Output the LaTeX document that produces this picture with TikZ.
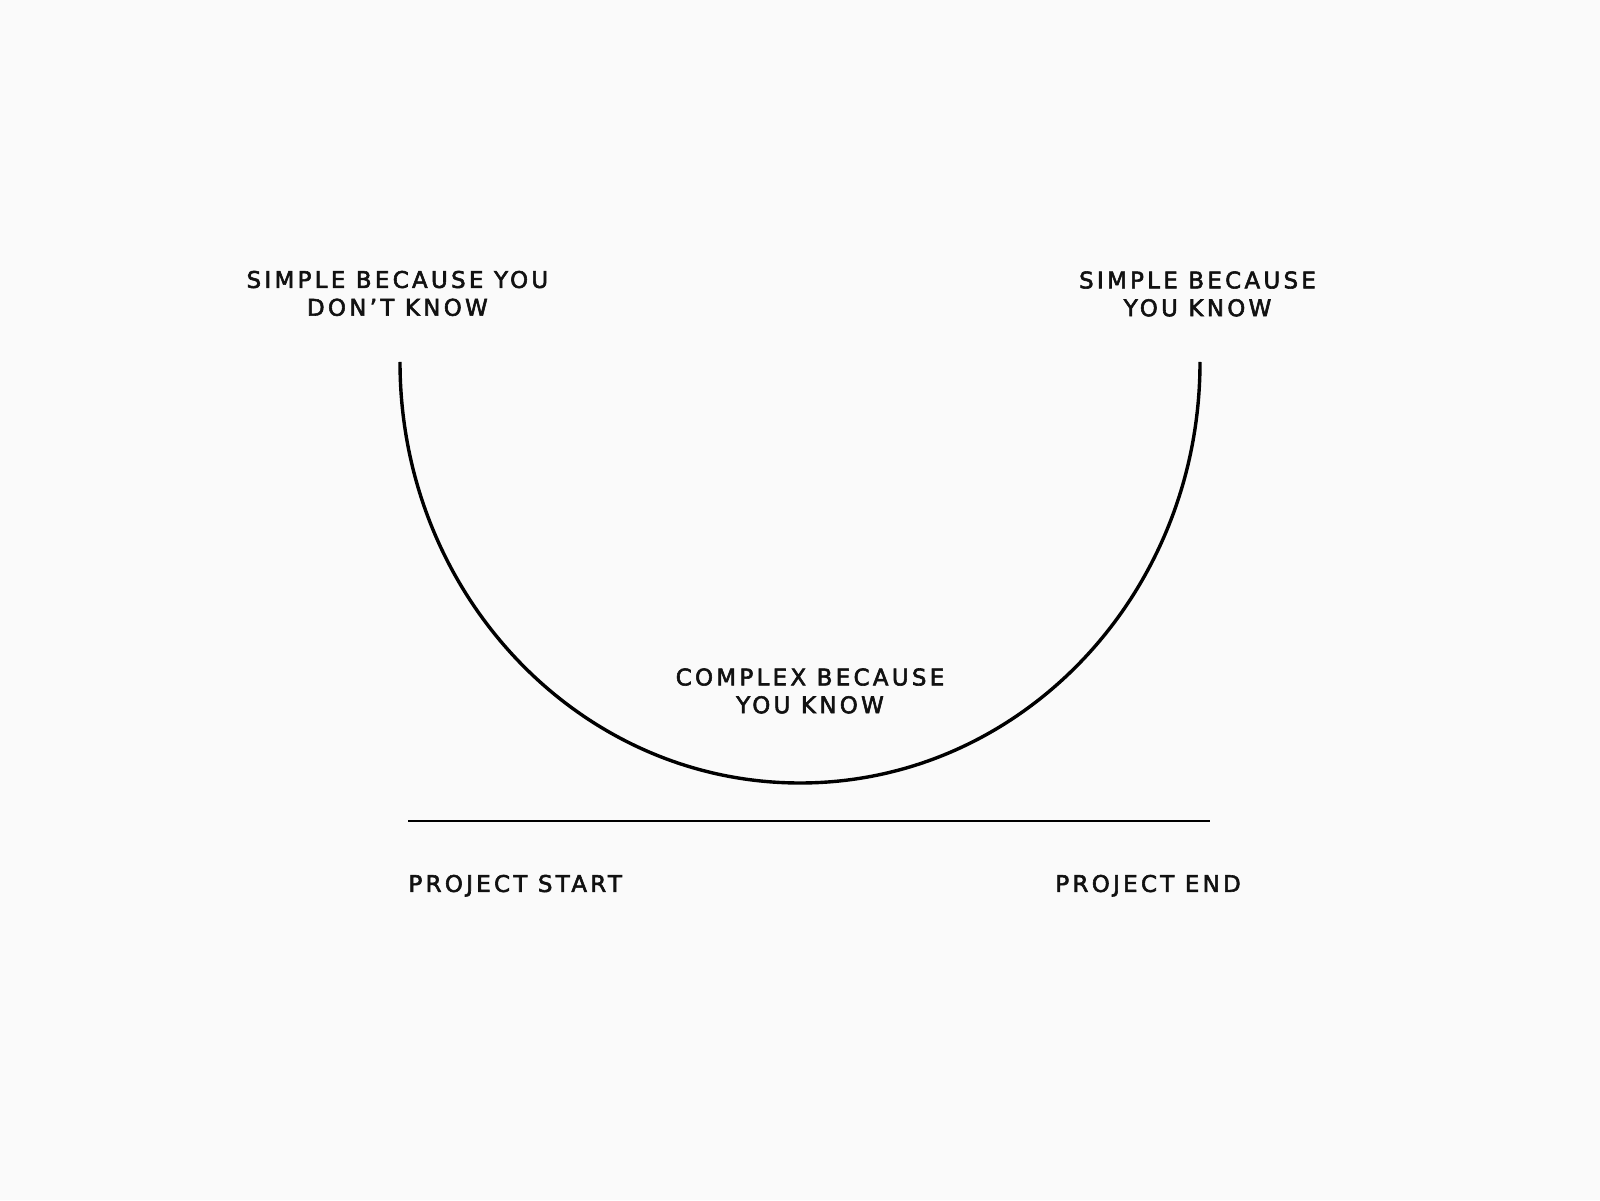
\documentclass[tikz,border=0pt]{standalone}
\usepackage{fontspec}
\setmainfont[LetterSpace=14.5,FakeBold=2.5]{DejaVu Sans}
\definecolor{bgc}{HTML}{FAFAFA}
\definecolor{ink}{HTML}{111111}
\begin{document}
\begin{tikzpicture}[x=1pt,y=1pt,
  lbl/.style={inner sep=0pt,align=center,text=ink,font={\fontsize{22.9}{27.8}\selectfont}},
  curve/.style={draw=black,line width=3.4pt},
  axis/.style={draw=black,line width=2.2pt}]
\fill[bgc] (0,0) rectangle (1600,1200);
\useasboundingbox (0,0) rectangle (1600,1200);
\coordinate (L) at (400,838);
\coordinate (R) at (1200,838);
\coordinate (A) at (408,379);
\coordinate (B) at (1210,379);
\draw[curve] (L) arc[start angle=180,end angle=360,x radius=400,y radius=421];
\draw[axis] (A) -- (B);
\node[lbl,anchor=north] (sl) at (397.4,929.3) {SIMPLE BECAUSE YOU\\DON’T KNOW};
\node[lbl,anchor=north] (sr) at (1197.5,928.8) {SIMPLE BECAUSE\\YOU KNOW};
\node[lbl,anchor=north] (cx) at (810,531.8) {COMPLEX BECAUSE\\YOU KNOW};
\node[lbl,anchor=north west] (ps) at (408.3,325.3) {PROJECT START};
\node[lbl,anchor=north west] (pe) at (1055.2,325.3) {PROJECT END};
\end{tikzpicture}
\end{document}
